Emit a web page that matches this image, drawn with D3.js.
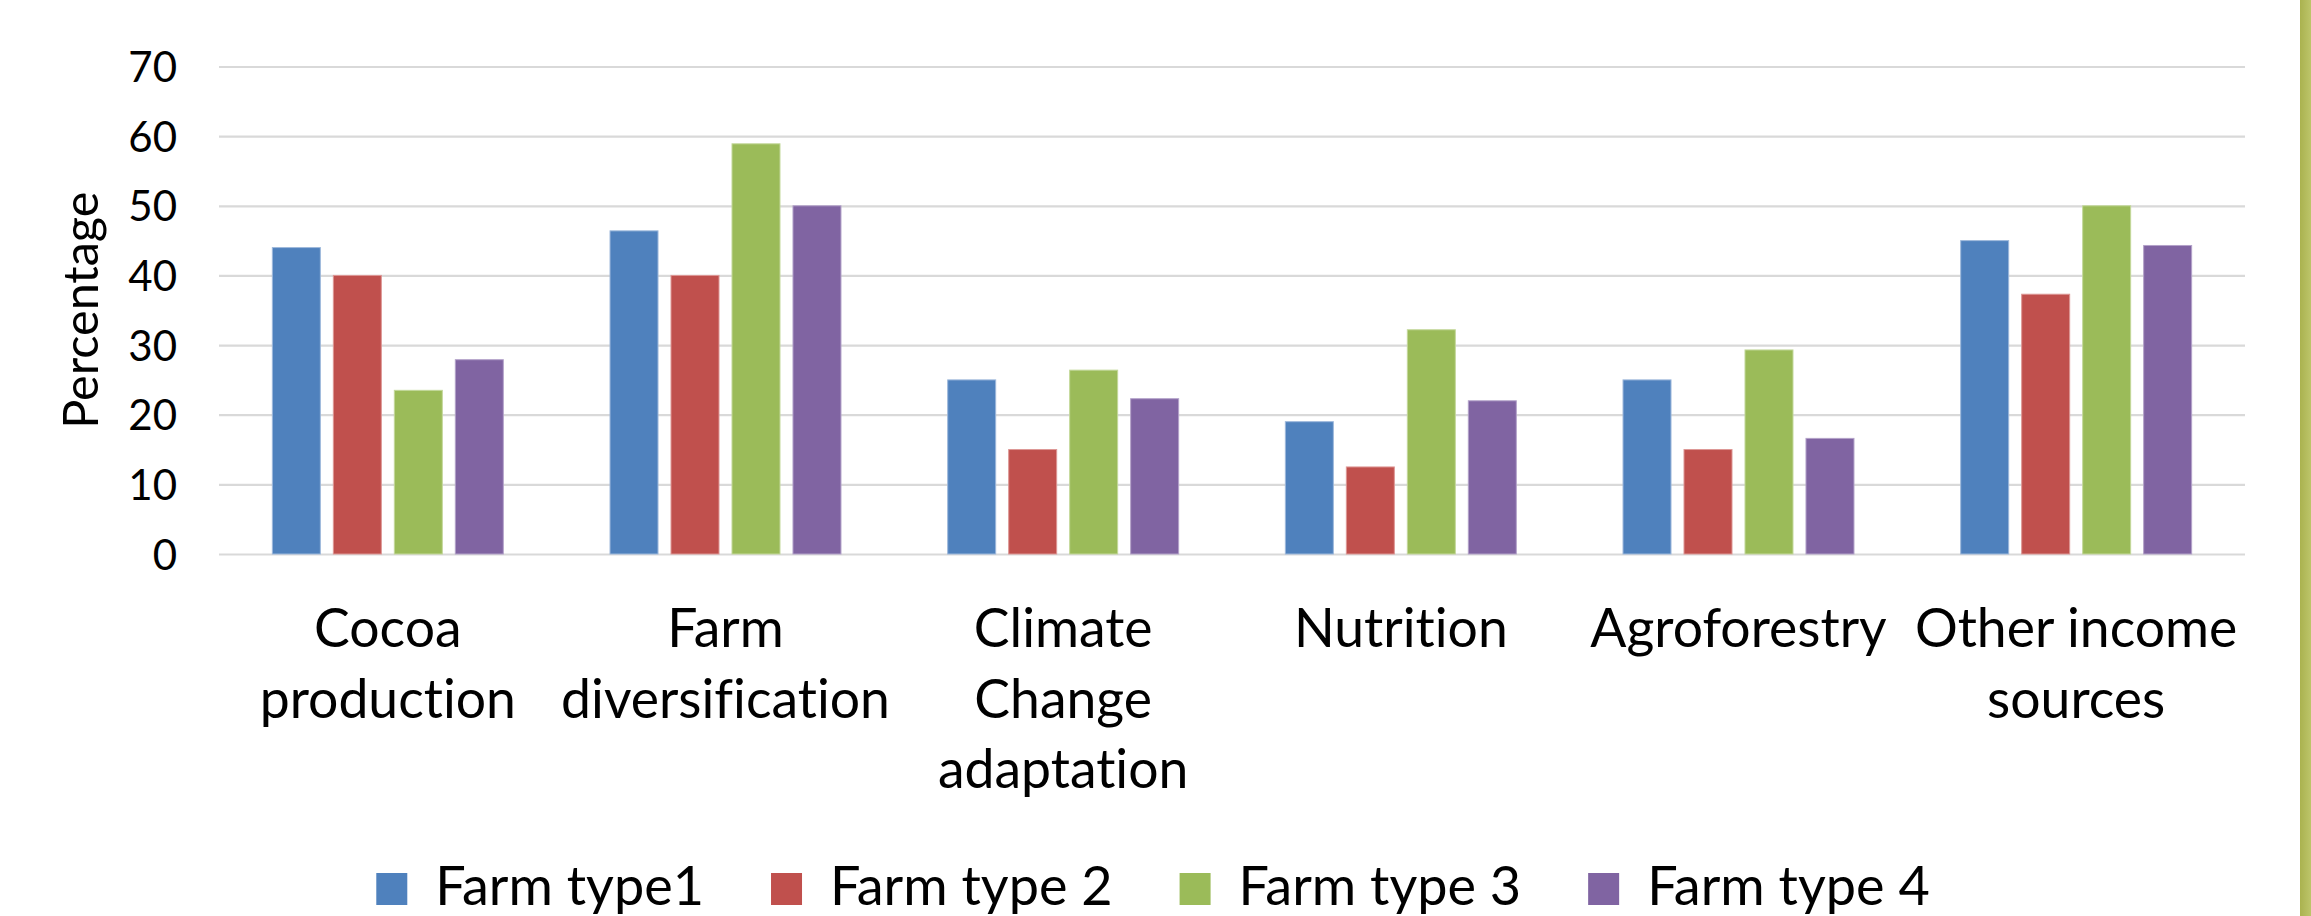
<!DOCTYPE html>
<html>
<head>
<meta charset="utf-8">
<script src="https://cdn.jsdelivr.net/npm/d3@7"></script>
<style>
  html, body { margin: 0; padding: 0; background: #ffffff; }
  svg { display: block; }
  text { font-family: Lato, "Open Sans", sans-serif; fill: #000;
         font-variant-ligatures: none; font-feature-settings: "liga" 0, "clig" 0; }
</style>
</head>
<body>
<svg id="chart" width="2311" height="916"></svg>
<script>
// Share of respondents per training topic, by farm type
const categories = ["Cocoa production", "Farm diversification", "Climate Change adaptation",
                    "Nutrition", "Agroforestry", "Other income sources"];
const categoryLines = [["Cocoa", "production"], ["Farm", "diversification"],
                       ["Climate", "Change", "adaptation"], ["Nutrition"],
                       ["Agroforestry"], ["Other income", "sources"]];
const seriesNames = ["Farm type1", "Farm type 2", "Farm type 3", "Farm type 4"];
const farmType1 = [44.0, 46.4, 25.0, 19.0, 25.0, 45.0];
const farmType2 = [40.0, 40.0, 15.0, 12.5, 15.0, 37.3];
const farmType3 = [23.5, 58.9, 26.4, 32.2, 29.3, 50.0];
const farmType4 = [27.9, 50.0, 22.3, 22.0, 16.6, 44.3];
const yTicks = [0, 10, 20, 30, 40, 50, 60, 70];
const yTitle = "Percentage";

const seriesValues = [farmType1, farmType2, farmType3, farmType4];
const colors = ["#4F81BD", "#C0504D", "#9BBB59", "#8064A2"];
const edgeColors = ["#9db8db", "#dd9795", "#c3d89a", "#b3a2c9"];

const svg = d3.select("#chart");
const W = 2311, H = 916;
const plot = { left: 219, right: 2245, top: 66.5, bottom: 554 };

// right-hand accent strip
const defs = svg.append("defs");
const grad = defs.append("linearGradient").attr("id", "strip").attr("x1", "0").attr("x2", "1");
grad.append("stop").attr("offset", "0").attr("stop-color", "#aab24f");
grad.append("stop").attr("offset", "1").attr("stop-color", "#bdc56a");
svg.append("rect").attr("x", 2300).attr("y", 0).attr("width", 11).attr("height", H)
  .attr("fill", "url(#strip)");

const y = d3.scaleLinear().domain([0, 70]).range([plot.bottom, plot.top]);
const x0 = d3.scaleBand().domain(categories).range([plot.left, plot.right])
  .paddingInner(0.316).paddingOuter(0.158);
const x1 = d3.scaleBand().domain(seriesNames).range([0, x0.bandwidth()]).paddingInner(0.213);

// gridlines + tick labels
const yAxis = d3.axisLeft(y).tickValues(yTicks).tickSize(-(plot.right - plot.left)).tickPadding(42);
const gy = svg.append("g").attr("transform", `translate(${plot.left},0)`).call(yAxis);
gy.select(".domain").remove();
gy.selectAll(".tick line").attr("stroke", "#d9d9d9").attr("stroke-width", 2.2);
gy.selectAll(".tick text").attr("font-size", 42).attr("fill", "#000")
  .attr("font-family", "Lato, sans-serif").attr("dy", "0.36em");

// bars
const groups = svg.append("g").selectAll("g").data(categories).join("g")
  .attr("transform", d => `translate(${x0(d)},0)`);
groups.selectAll("rect")
  .data((c, ci) => seriesNames.map((s, si) => ({ s, si, v: seriesValues[si][ci] })))
  .join("rect")
  .attr("x", d => x1(d.s))
  .attr("y", d => y(d.v))
  .attr("width", x1.bandwidth())
  .attr("height", d => y(0) - y(d.v))
  .attr("fill", d => colors[d.si])
  .attr("stroke", d => edgeColors[d.si])
  .attr("stroke-width", 1);

// category labels
const catG = svg.append("g");
categories.forEach((c, i) => {
  const t = catG.append("text")
    .attr("x", x0(c) + x0.bandwidth() / 2)
    .attr("y", 647)
    .attr("text-anchor", "middle")
    .attr("font-size", 53.5);
  categoryLines[i].forEach((line, li) => {
    t.append("tspan").attr("x", x0(c) + x0.bandwidth() / 2)
      .attr("dy", li === 0 ? 0 : 70.5).text(line);
  });
});

// y title
svg.append("text")
  .attr("transform", `translate(97.5,${(plot.top + plot.bottom) / 2}) rotate(-90)`)
  .attr("text-anchor", "middle")
  .attr("font-size", 48.5)
  .text(yTitle);

// legend
const legend = svg.append("g");
const sw = 31, swGap = 28, itemGap = 67, baseY = 905;
const items = seriesNames.map((name, i) => {
  const g = legend.append("g");
  g.append("rect").attr("width", sw).attr("height", 32).attr("y", baseY - 32)
    .attr("fill", colors[i]);
  const t = g.append("text").attr("x", sw + swGap).attr("y", baseY)
    .attr("font-size", 54).text(name);
  return { g, w: sw + swGap + t.node().getComputedTextLength() };
});
const total = d3.sum(items, d => d.w) + itemGap * (items.length - 1);
let cx = 1153 - total / 2;
items.forEach(it => {
  it.g.attr("transform", `translate(${cx},0)`);
  cx += it.w + itemGap;
});
</script>
</body>
</html>
